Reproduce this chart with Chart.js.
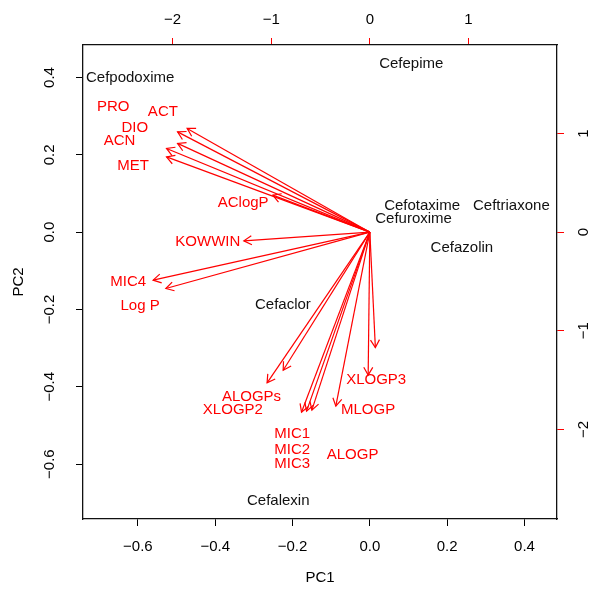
<!DOCTYPE html>
<html>
<head>
<meta charset="utf-8">
<script src="https://cdn.jsdelivr.net/npm/chart.js@4/dist/chart.umd.min.js"></script>
<style>
  html, body { margin: 0; padding: 0; background: #ffffff; }
  #wrap { width: 590px; height: 590px; }
</style>
</head>
<body>
<div id="wrap"><canvas id="biplot" width="590" height="590"></canvas></div>
<script>
// Compound scores on the first two principal components
const compounds = ['Cefpodoxime', 'Cefepime', 'Cefotaxime', 'Ceftriaxone', 'Cefuroxime', 'Cefazolin', 'Cefaclor', 'Cefalexin'];
const pc1 = [-0.620, 0.107, 0.135, 0.366, 0.113, 0.238, -0.225, -0.237];
const pc2 = [0.398, 0.436, 0.068, 0.068, 0.034, -0.040, -0.188, -0.695];

// Variable loadings: arrow ends on the secondary (top / right) axes
const variables = ['ACT', 'PRO', 'DIO', 'ACN', 'MET', 'AClogP', 'KOWWIN', 'MIC4', 'Log P',
                   'XLOGP2', 'ALOGPs', 'MIC1', 'MIC2', 'MIC3', 'MLOGP', 'XLOGP3', 'ALOGP'];
const load1 = [-1.853, -1.950, -1.950, -2.062, -2.062, -0.984, -1.278, -2.198, -2.069,
               -1.042, -0.879, -0.693, -0.642, -0.588, -0.345, -0.017, 0.056];
const load2 = [1.052, 1.017, 0.900, 0.849, 0.764, 0.375, -0.088, -0.487, -0.571,
               -1.528, -1.400, -1.826, -1.815, -1.805, -1.765, -1.450, -1.171];

// Where each variable name is written (secondary axis units)
const nameX = [-2.099, -2.603, -2.383, -2.538, -2.401, -1.285, -1.643, -2.451, -2.330,
               -1.389, -1.200, -0.788, -0.788, -0.788, -0.018, 0.064, -0.175];
const nameY = [1.220, 1.271, 1.058, 0.926, 0.669, 0.297, -0.098, -0.504, -0.747,
               -1.805, -1.670, -2.049, -2.204, -2.353, -1.805, -1.501, -2.262];

// Axis ranges and tick values
const pcLimits = [-0.742, 0.484];
const loadLimits = [-2.909, 1.898];
const pcTicks = [-0.6, -0.4, -0.2, 0.0, 0.2, 0.4];
const loadTicks = [-2, -1, 0, 1];

const FONT = { family: '"Liberation Sans", Arial, Helvetica, sans-serif', size: 15 };
const RED = '#ff0000';
const INK = '#000000';

const fmt = (v, digits) => v.toFixed(digits).replace('-', '\u2212');

// One line dataset per arrow, from the origin to the loading
const arrowSets = variables.map((name, i) => ({
  label: name,
  isArrow: true,
  data: [{ x: 0, y: 0 }, { x: load1[i], y: load2[i] }],
  xAxisID: 'x2', yAxisID: 'y2',
  showLine: true,
  borderColor: RED, borderWidth: 1.2,
  pointRadius: 0, tension: 0
}));

const textLabels = {
  id: 'textLabels',
  afterDatasetsDraw(chart) {
    const ctx = chart.ctx;
    ctx.save();
    ctx.font = FONT.size + 'px ' + FONT.family;
    ctx.textAlign = 'center';
    ctx.textBaseline = 'middle';
    chart.data.datasets.forEach((ds, i) => {
      if (!ds.names) return;
      ctx.fillStyle = ds.textColor;
      chart.getDatasetMeta(i).data.forEach((pt, j) => ctx.fillText(ds.names[j], pt.x, pt.y));
    });
    ctx.restore();
  }
};

const arrowHeads = {
  id: 'arrowHeads',
  afterDatasetsDraw(chart) {
    const ctx = chart.ctx;
    const len = 9, spread = Math.PI / 6;
    ctx.save();
    chart.data.datasets.forEach((ds, i) => {
      if (!ds.isArrow) return;
      const pts = chart.getDatasetMeta(i).data;
      const a = pts[0], b = pts[1];
      const ang = Math.atan2(b.y - a.y, b.x - a.x);
      ctx.strokeStyle = ds.borderColor;
      ctx.lineWidth = ds.borderWidth;
      ctx.beginPath();
      ctx.moveTo(b.x - len * Math.cos(ang - spread), b.y - len * Math.sin(ang - spread));
      ctx.lineTo(b.x, b.y);
      ctx.lineTo(b.x - len * Math.cos(ang + spread), b.y - len * Math.sin(ang + spread));
      ctx.stroke();
    });
    ctx.restore();
  }
};

// Vertical axis tick labels, written parallel to the axis
const sideLabels = {
  id: 'sideLabels',
  afterDraw(chart) {
    const ctx = chart.ctx;
    const area = chart.chartArea;
    ctx.save();
    ctx.font = FONT.size + 'px ' + FONT.family;
    ctx.fillStyle = INK;
    ctx.textAlign = 'center';
    ctx.textBaseline = 'middle';
    const put = (scale, x, digits) => {
      scale.ticks.forEach(t => {
        const y = scale.getPixelForValue(t.value);
        ctx.save();
        ctx.translate(x, y);
        ctx.rotate(-Math.PI / 2);
        ctx.fillText(fmt(t.value, digits), 0, 0);
        ctx.restore();
      });
    };
    put(chart.scales.y, area.left - 33, 1);
    put(chart.scales.y2, area.right + 27, 0);
    ctx.restore();
  }
};

const setTicks = vals => scale => { scale.ticks = vals.map(v => ({ value: v })); };

new Chart(document.getElementById('biplot'), {
  type: 'scatter',
  data: {
    datasets: [
      {
        label: 'compounds',
        names: compounds, textColor: '#111111',
        data: compounds.map((c, i) => ({ x: pc1[i], y: pc2[i] })),
        xAxisID: 'x', yAxisID: 'y',
        pointRadius: 0
      },
      {
        label: 'variables',
        names: variables, textColor: RED,
        data: variables.map((v, i) => ({ x: nameX[i], y: nameY[i] })),
        xAxisID: 'x2', yAxisID: 'y2',
        pointRadius: 0
      },
      ...arrowSets
    ]
  },
  options: {
    responsive: false,
    animation: false,
    devicePixelRatio: 1,
    layout: { padding: 0 },
    plugins: { legend: { display: false }, tooltip: { enabled: false } },
    scales: {
      x: {
        type: 'linear', position: 'bottom',
        min: pcLimits[0], max: pcLimits[1],
        afterBuildTicks: setTicks(pcTicks),
        afterFit: s => { s.height = 71; },
        grid: { drawOnChartArea: false, color: INK, tickLength: 7 },
        border: { display: true, color: '#111111', width: 1.3 },
        ticks: { autoSkip: false, maxRotation: 0, padding: 12, color: INK, font: FONT,
                 callback: v => fmt(v, 1) },
        title: { display: true, text: 'PC1', color: INK, font: FONT, padding: { top: 0, bottom: 3 } }
      },
      y: {
        type: 'linear', position: 'left',
        min: pcLimits[0], max: pcLimits[1],
        afterBuildTicks: setTicks(pcTicks),
        afterFit: s => { s.width = 83; },
        grid: { drawOnChartArea: false, color: INK, tickLength: 7 },
        border: { display: true, color: '#111111', width: 1.3 },
        ticks: { display: false, autoSkip: false },
        title: { display: true, text: 'PC2', color: INK, font: FONT, padding: { top: 10, bottom: 0 } }
      },
      x2: {
        type: 'linear', position: 'top',
        min: loadLimits[0], max: loadLimits[1],
        afterBuildTicks: setTicks(loadTicks),
        afterFit: s => { s.height = 45; },
        grid: { drawOnChartArea: false, color: RED, tickLength: 7 },
        border: { display: true, color: '#111111', width: 1.3 },
        ticks: { autoSkip: false, maxRotation: 0, padding: 9, color: INK, font: FONT,
                 callback: v => fmt(v, 0) }
      },
      y2: {
        type: 'linear', position: 'right',
        min: loadLimits[0], max: loadLimits[1],
        afterBuildTicks: setTicks(loadTicks),
        afterFit: s => { s.width = 33; },
        grid: { drawOnChartArea: false, color: RED, tickLength: 7 },
        border: { display: true, color: '#111111', width: 1.3 },
        ticks: { display: false, autoSkip: false }
      }
    }
  },
  plugins: [arrowHeads, textLabels, sideLabels]
});
</script>
</body>
</html>
